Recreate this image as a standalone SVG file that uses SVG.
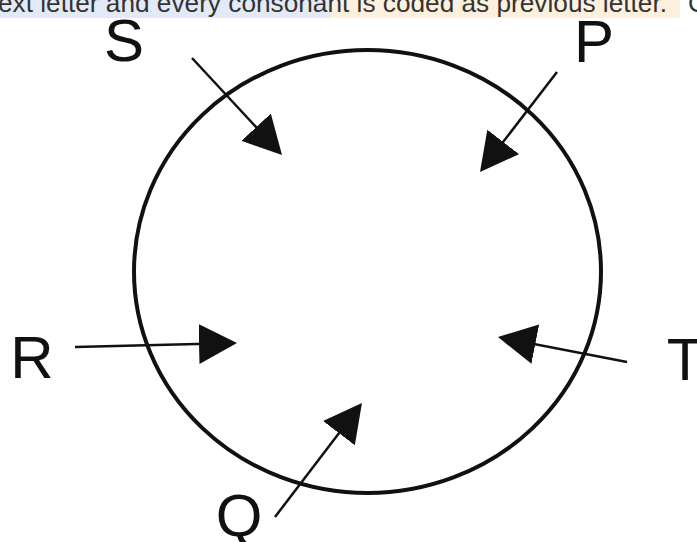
<svg xmlns="http://www.w3.org/2000/svg" width="697" height="542" viewBox="0 0 697 542">
<style>
.lbl{font-family:"Liberation Sans",Arial,sans-serif;font-size:60px;fill:#111;text-anchor:middle}
.top{font-family:"Liberation Sans",Arial,sans-serif;font-size:26px;fill:#333}
.arr{stroke:#111;stroke-width:2.5;fill:none;marker-end:url(#ah)}
</style>
<defs>
<marker id="ah" viewBox="0 0 38 40" refX="28" refY="20" markerWidth="38" markerHeight="40" markerUnits="userSpaceOnUse" orient="auto">
<path d="M0,0 L38,20 L0,40 z" fill="#111"/>
</marker>
</defs>
<rect width="697" height="542" fill="#fff"/>
<g id="caption">
<rect x="0" y="0" width="330" height="18" fill="#e3eaf7"/>
<rect x="330" y="0" width="350" height="18" fill="#fdf1de"/>
<text class="top" x="-2" y="12" textLength="669" lengthAdjust="spacingAndGlyphs">ext letter and every consonant is coded as previous letter.</text>
<text class="top" x="688" y="12">C</text>
</g>
<g id="circle">
<ellipse cx="367.5" cy="271.5" rx="233.5" ry="221.5" fill="none" stroke="#111" stroke-width="4"/>
</g>
<g id="connectors">
<line class="arr" x1="192" y1="58" x2="275.2" y2="147.7"/>
<line class="arr" x1="557" y1="72" x2="486.1" y2="164.1"/>
<line class="arr" x1="75" y1="347" x2="227" y2="343.2"/>
<line class="arr" x1="627" y1="362" x2="507.8" y2="338.9"/>
<line class="arr" x1="275" y1="517" x2="355.9" y2="410.9"/>
</g>
<g id="S"><text class="lbl" x="124" y="61">S</text></g>
<g id="P"><text class="lbl" x="594" y="62">P</text></g>
<g id="R"><text class="lbl" x="32" y="378">R</text></g>
<g id="T"><text class="lbl" x="685" y="380">T</text></g>
<g id="Q"><text class="lbl" x="239" y="536">Q</text></g>
</svg>
